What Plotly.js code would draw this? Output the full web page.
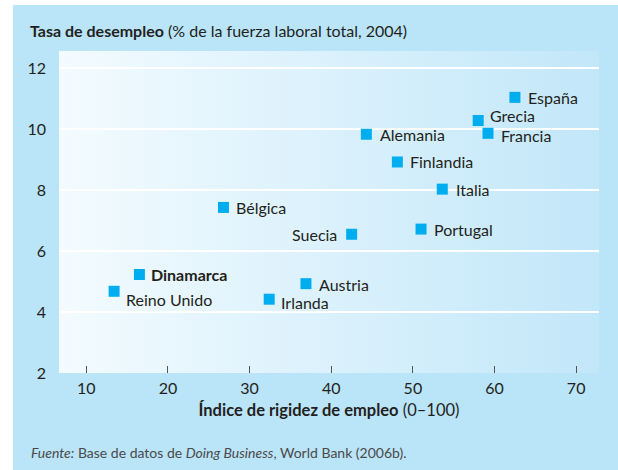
<!DOCTYPE html>
<html>
<head>
<meta charset="utf-8">
<script src="https://cdn.plot.ly/plotly-3.0.1.min.js"></script>
<style>
  html, body { margin: 0; padding: 0; background: #ffffff; width: 618px; height: 470px; overflow: hidden; }
  #chart { position: absolute; left: 13px; top: 5px; width: 605px; height: 465px; }
</style>
</head>
<body>
<div id="chart"></div>
<script>
// ---- data ----
const countries = ["España", "Grecia", "Francia", "Alemania", "Finlandia", "Italia", "Bélgica",
                   "Suecia", "Portugal", "Dinamarca", "Reino Unido", "Austria", "Irlanda"];
const rigidityIndex = [62.5, 58.0, 59.2, 44.3, 48.1, 53.6, 26.8, 42.5, 51.0, 16.5, 13.4, 36.9, 32.4];
const unemploymentRate = [11.04, 10.28, 9.86, 9.83, 8.92, 8.03, 7.43, 6.55, 6.72, 5.23, 4.68, 4.93, 4.42];
const xTickValues = [10, 20, 30, 40, 50, 60, 70];
const yTickValues = [2, 4, 6, 8, 10, 12];

// ---- label placement (pixel offsets from each marker) ----
const labelPlacement = {
  "España": [11, 0], "Grecia": [10, 5], "Francia": [11, -2.5], "Alemania": [12, 0],
  "Finlandia": [11, 0], "Italia": [12, 0], "Bélgica": [11, 0], "Suecia": [-13, 0],
  "Portugal": [11, 0], "Dinamarca": [10, 0], "Reino Unido": [10, -8], "Austria": [11.5, -1],
  "Irlanda": [10, -3]
};
const boldLabels = { "Dinamarca": true };

const FONT = "Lato, 'Open Sans', sans-serif";
const TEXT = "#231f20";
const PANEL = "#bae4f8";

const gradSvg = '<svg xmlns="http://www.w3.org/2000/svg" width="100" height="100" preserveAspectRatio="none">' +
  '<defs><linearGradient id="g" x1="0" y1="0" x2="1" y2="0">' +
  '<stop offset="0" stop-color="#f3fbff"/><stop offset="1" stop-color="#c2e7f9"/></linearGradient></defs>' +
  '<rect width="100" height="100" fill="url(#g)"/></svg>';
const gradUri = "data:image/svg+xml;base64," + btoa(gradSvg);

const trace = {
  type: "scatter",
  mode: "markers",
  x: rigidityIndex,
  y: unemploymentRate,
  text: countries,
  hoverinfo: "text",
  marker: { symbol: "square", size: 11, color: "#00aeef", line: { width: 0 } },
  showlegend: false
};

const annotations = countries.map((c, i) => {
  const p = labelPlacement[c];
  return {
    x: rigidityIndex[i], y: unemploymentRate[i], xref: "x", yref: "y",
    text: boldLabels[c] ? "<b>" + c + "</b>" : c,
    showarrow: false,
    xanchor: p[0] < 0 ? "right" : "left",
    yanchor: "middle",
    xshift: p[0], yshift: p[1],
    font: { family: FONT, size: 16, color: TEXT }
  };
});

annotations.push({
  xref: "paper", yref: "paper",
  x: -30 / 540, y: -79 / 321.7,
  xanchor: "left", yanchor: "middle",
  showarrow: false,
  text: "<i>Fuente:</i> Base de datos de <i>Doing Business</i>, World Bank (2006b).",
  font: { family: FONT, size: 14, color: "#4a4a4a" }
});

const layout = {
  width: 605, height: 465,
  margin: { l: 46, r: 19, t: 46, b: 97.3, pad: 0 },
  paper_bgcolor: PANEL,
  plot_bgcolor: "rgba(0,0,0,0)",
  font: { family: FONT, color: TEXT, size: 15 },
  title: {
    text: "<b>Tasa de desempleo</b> (% de la fuerza laboral total, 2004)",
    font: { family: FONT, size: 16, color: TEXT },
    xref: "container", yref: "container",
    x: 17 / 605, xanchor: "left",
    y: 1 - 26 / 465, yanchor: "middle"
  },
  images: [{
    source: gradUri, xref: "paper", yref: "paper",
    x: 0, y: 1, sizex: 1, sizey: 1, sizing: "stretch",
    xanchor: "left", yanchor: "top", layer: "below"
  }],
  xaxis: {
    range: [6.65, 72.8],
    tickvals: xTickValues,
    ticks: "inside", ticklen: 7, tickwidth: 1, tickcolor: "#555555",
    showgrid: false, zeroline: false, showline: false,
    ticklabelstandoff: 4,
    tickfont: { family: FONT, size: 16, color: TEXT },
    title: {
      text: "<b>Índice de rigidez de empleo</b> (0–100)",
      font: { family: FONT, size: 16.5, color: TEXT },
      standoff: 8
    },
    fixedrange: true
  },
  yaxis: {
    range: [2, 12.56],
    tickvals: yTickValues,
    ticks: "", showgrid: true, gridcolor: "#ffffff", gridwidth: 1.6,
    zeroline: false, showline: false,
    ticklabelstandoff: 12,
    tickfont: { family: FONT, size: 16, color: TEXT },
    fixedrange: true
  },
  annotations: annotations
};

Plotly.newPlot("chart", [trace], layout, { displayModeBar: false, staticPlot: true });
</script>
</body>
</html>
